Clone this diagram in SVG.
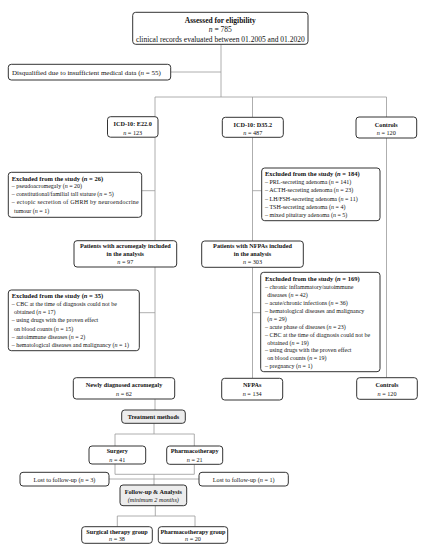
<svg xmlns="http://www.w3.org/2000/svg" width="422" height="550" viewBox="0 0 422 550">
<style>
.box{fill:#fff;stroke:#333;stroke-width:1}
.gbox{fill:#ececec;stroke:#333;stroke-width:1}
.ln{fill:none;stroke:#999;stroke-width:0.8}
text{font-family:"Liberation Serif","Times New Roman",serif;fill:#111;font-size:6.2px}
.c{text-anchor:middle}
.b{font-weight:bold}
.i{font-style:italic}
.big{font-size:7.5px}
.md{font-size:7px}
.sm{font-size:6px}
.h{font-size:6.5px}
</style>
<rect width="422" height="550" fill="#fff"/>
<g id="connectors">
<path class="ln" d="M221,44.3V97M170.7,72H221M155,97H386.5M155,97V116.7M252.5,97V117.3M386.5,97V117"/>
<path class="ln" d="M155,137V240.7M252.5,137.3V241M386.5,138V377.7M141.7,190.7H155M252.5,190.7H261.7"/>
<path class="ln" d="M155,267V377.7M252.5,267.3V378.3M139.3,312.7H155M252.5,312.7H260.7"/>
<path class="ln" d="M155,399V410M154,423.3V434M115,434H194.3M115,434V446M194.3,434V446"/>
<path class="ln" d="M115,464V474.3M194.3,464.3V474.3M115,474.3H194.3M154,474.3V485M109,479H199"/>
<path class="ln" d="M155.3,505.7V516M117.3,516H195M117.3,516V526.7M195,516V526.7"/>
</g>
<g id="assessed">
<rect class="box" x="132.7" y="12.3" width="175.3" height="32" rx="3"/>
<text class="c b big" x="220.3" y="23">Assessed for eligibility</text>
<text class="c big" x="220.3" y="31.8"><tspan class="i">n</tspan> = 785</text>
<text class="c big" x="220.3" y="41.5">clinical records evaluated between 01.2005 and 01.2020</text>
</g>
<g id="disqualified">
<rect class="box" x="8.3" y="64.3" width="162.4" height="15.7" rx="3"/>
<text class="md" x="12" y="74.5">Disqualified due to insufficient medical data (<tspan class="i">n</tspan> = 55)</text>
</g>
<g id="icd-e22">
<rect class="box" x="107.5" y="116.7" width="50.5" height="20.5" rx="3"/>
<text class="c b" x="132.7" y="126.3">ICD-10: E22.0</text>
<text class="c" x="132.7" y="135"><tspan class="i">n</tspan> = 123</text>
</g>
<g id="icd-d35">
<rect class="box" x="222.3" y="117.3" width="61" height="20" rx="3"/>
<text class="c b" x="252.8" y="126.5">ICD-10: D35.2</text>
<text class="c" x="252.8" y="135"><tspan class="i">n</tspan> = 487</text>
</g>
<g id="controls-top">
<rect class="box" x="356" y="117" width="60.7" height="21" rx="3"/>
<text class="c b" x="386.3" y="126.5">Controls</text>
<text class="c" x="386.3" y="135.3"><tspan class="i">n</tspan> = 120</text>
</g>
<g id="excluded-26">
<rect class="box" x="8.3" y="172.3" width="133.4" height="45" rx="3"/>
<text class="b h" x="11.7" y="181.3">Excluded from the study (<tspan class="i">n</tspan> = 26)</text>
<text class="sm" x="11.7" y="188.3">– pseudoacromegaly (<tspan class="i">n</tspan> = 20)</text>
<text class="sm" x="11.7" y="196.2">– constitutional/familial tall stature (<tspan class="i">n</tspan> = 5)</text>
<text class="sm" x="11.7" y="204.2" textLength="127">– ectopic secretion of GHRH by neuroendocrine</text>
<text class="sm" x="14" y="212.6">tumour (<tspan class="i">n</tspan> = 1)</text>
</g>
<g id="excluded-184">
<rect class="box" x="261.7" y="168" width="118.3" height="52.7" rx="3"/>
<text class="b h" x="265" y="176.2">Excluded from the study (<tspan class="i">n</tspan> = 184)</text>
<text class="sm" x="265" y="183.9">– PRL-secreting adenoma (<tspan class="i">n</tspan> = 141)</text>
<text class="sm" x="265" y="192.2">– ACTH-secreting adenoma (<tspan class="i">n</tspan> = 23)</text>
<text class="sm" x="265" y="200.5">– LH/FSH-secreting adenoma (<tspan class="i">n</tspan> = 11)</text>
<text class="sm" x="265" y="208.9">– TSH-secreting adenoma (<tspan class="i">n</tspan> = 4)</text>
<text class="sm" x="265" y="217.2">– mixed pituitary adenoma (<tspan class="i">n</tspan> = 5)</text>
</g>
<g id="patients-acromegaly">
<rect class="box" x="74" y="240.7" width="102.7" height="26.3" rx="3"/>
<text class="c b" x="125.3" y="248.2">Patients with acromegaly included</text>
<text class="c b" x="125.3" y="255.5">in the analysis</text>
<text class="c" x="125.3" y="263.9"><tspan class="i">n</tspan> = 97</text>
</g>
<g id="patients-nfpa">
<rect class="box" x="201.7" y="241" width="101.6" height="26.3" rx="3"/>
<text class="c b" x="252.5" y="248.2">Patients with NFPAs included</text>
<text class="c b" x="252.5" y="255.5">in the analysis</text>
<text class="c" x="252.5" y="263.9"><tspan class="i">n</tspan> = 303</text>
</g>
<g id="excluded-35">
<rect class="box" x="8.3" y="290" width="131" height="60.7" rx="3"/>
<text class="b h" x="11.7" y="297.9">Excluded from the study (<tspan class="i">n</tspan> = 35)</text>
<text class="sm" x="11.7" y="306.2">– CBC at the time of diagnosis could not be</text>
<text class="sm" x="14" y="313.9">obtained (<tspan class="i">n</tspan> = 17)</text>
<text class="sm" x="11.7" y="322.2">– using drugs with the proven effect</text>
<text class="sm" x="14" y="330.5">on blood counts (<tspan class="i">n</tspan> = 15)</text>
<text class="sm" x="11.7" y="338.9">– autoimmune diseases (<tspan class="i">n</tspan> = 2)</text>
<text class="sm" x="11.7" y="347.2">– hematological diseases and malignancy (<tspan class="i">n</tspan> = 1)</text>
</g>
<g id="excluded-169">
<rect class="box" x="260.7" y="272.3" width="119.3" height="99.4" rx="3"/>
<text class="b h" x="265" y="280.5">Excluded from the study (<tspan class="i">n</tspan> = 169)</text>
<text class="sm" x="265" y="288.9">– chronic inflammatory/autoimmune</text>
<text class="sm" x="267.3" y="296.5">diseases (<tspan class="i">n</tspan> = 42)</text>
<text class="sm" x="265" y="304.9">– acute/chronic infections (<tspan class="i">n</tspan> = 36)</text>
<text class="sm" x="265" y="312.9">– hematological diseases and malignancy</text>
<text class="sm" x="267.3" y="320.9">(<tspan class="i">n</tspan> = 29)</text>
<text class="sm" x="265" y="328.9">– acute phase of diseases (<tspan class="i">n</tspan> = 23)</text>
<text class="sm" x="265" y="336.5">– CBC at the time of diagnosis could not be</text>
<text class="sm" x="267.3" y="344.5">obtained (<tspan class="i">n</tspan> = 19)</text>
<text class="sm" x="265" y="352.2">– using drugs with the proven effect</text>
<text class="sm" x="267.3" y="359.9">on blood counts (<tspan class="i">n</tspan> = 19)</text>
<text class="sm" x="265" y="367.5">– pregnancy (<tspan class="i">n</tspan> = 1)</text>
</g>
<g id="newly-diagnosed">
<rect class="box" x="73.3" y="377.7" width="101.4" height="21.3" rx="3"/>
<text class="c b" x="124" y="387.2">Newly diagnosed acromegaly</text>
<text class="c" x="124" y="395.5"><tspan class="i">n</tspan> = 62</text>
</g>
<g id="nfpas">
<rect class="box" x="221.7" y="378.3" width="61" height="21.7" rx="3"/>
<text class="c b" x="252.2" y="387.2">NFPAs</text>
<text class="c" x="252.2" y="395.5"><tspan class="i">n</tspan> = 134</text>
</g>
<g id="controls-bottom">
<rect class="box" x="356.7" y="377.7" width="60.6" height="21.6" rx="3"/>
<text class="c b" x="387" y="387.2">Controls</text>
<text class="c" x="387" y="395.5"><tspan class="i">n</tspan> = 120</text>
</g>
<g id="treatment-methods">
<rect class="gbox" x="121.7" y="410" width="63.6" height="13.3" rx="3"/>
<text class="c b" x="153.5" y="419.2">Treatment methods</text>
</g>
<g id="surgery">
<rect class="box" x="89" y="446" width="56.7" height="18" rx="3"/>
<text class="c b" x="117.3" y="453.2">Surgery</text>
<text class="c" x="117.3" y="461.5"><tspan class="i">n</tspan> = 41</text>
</g>
<g id="pharmacotherapy">
<rect class="box" x="166.7" y="446" width="56" height="18.3" rx="3"/>
<text class="c b" x="194.7" y="453.2">Pharmacotherapy</text>
<text class="c" x="194.7" y="461.5"><tspan class="i">n</tspan> = 21</text>
</g>
<g id="lost-3">
<rect class="box" x="20" y="472.3" width="89" height="13.7" rx="3"/>
<text class="c" x="64.5" y="481.6">Lost to follow-up (<tspan class="i">n</tspan> = 3)</text>
</g>
<g id="lost-1">
<rect class="box" x="199" y="472.3" width="89.3" height="13.7" rx="3"/>
<text class="c" x="243.7" y="481.6">Lost to follow-up (<tspan class="i">n</tspan> = 1)</text>
</g>
<g id="follow-up">
<rect class="gbox" x="120" y="485" width="66.7" height="20.7" rx="3"/>
<text class="c b" x="153.3" y="494.4">Follow-up &amp; Analysis</text>
<text class="c i" x="153.3" y="501.5">(minimum 2 months)</text>
</g>
<g id="surgical-group">
<rect class="box" x="81.7" y="526.7" width="70.6" height="16.6" rx="3"/>
<text class="c b" x="117" y="533.8">Surgical therapy group</text>
<text class="c" x="117" y="541.4"><tspan class="i">n</tspan> = 38</text>
</g>
<g id="pharmaco-group">
<rect class="box" x="158.3" y="526.7" width="69.4" height="16.6" rx="3"/>
<text class="c b" x="193" y="533.8">Pharmacotherapy group</text>
<text class="c" x="193" y="541.4"><tspan class="i">n</tspan> = 20</text>
</g>
</svg>
